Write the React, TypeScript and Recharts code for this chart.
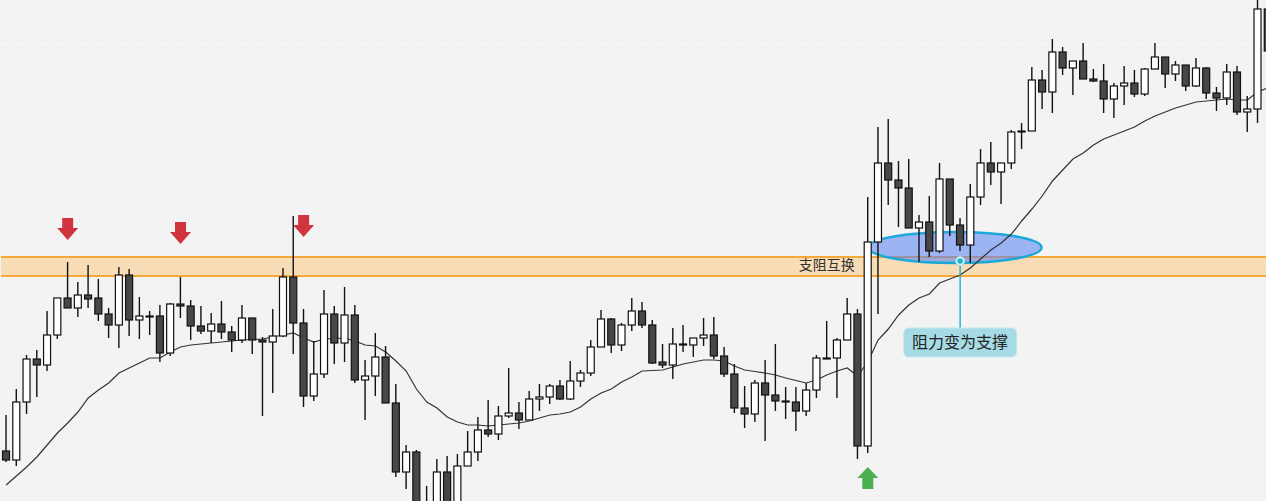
import React from 'react';
import {
  ComposedChart,
  Bar,
  Line,
  XAxis,
  YAxis,
  ReferenceArea,
  ReferenceLine,
  ReferenceDot,
} from 'recharts';

// price series (one value per candle)
const opens = [50,41,99,142,136,166,203,193,206,203,187,176,226,181,184.5,185,148,197,195,175,170,177,169,161,183,161,159,165,224,178,105,127,187,158,186,121,125,144,98,29,49,-14,-9,29,-4,35,49,71,67,85,88,81,102,104,115,102,120,128,154,182,156,176,190,176,139,136,156.5,156,163,166,145,127,93,87,118,106,100,99,90,111,142.5,143,161,187,55,259,338,321,313,273,279,250,322,276,256,304,338,329,338,369.5,370,421,409,449,433,440,422,420,402,415,418,407,432,444,427,436,415,433,408,403,429,389,392,492];
const highs = [86,112,146,151,190,203,239,219,236,222,193,234,232,204,190,196,198,224,201,195,188,200,175,196,183,164,192,233,285,192,160,211,195,214,196,141,168,155,117,56,51,15,42,45,47,70,84,101,95,133,99,110,117,117,121,140,131,161,191,183,178,203,199,181,157,173,176,163,183,184,154,137,115,121,141,157,114,114,118,146,180,163,203,192,304,374,382,340,342,286,305,338,322,283,317,352,359,338,371,378,434,431,462,454,440,458,432,437,418,435,431,433,458,444,440,436,443,434,414,437,435,405,511,506];
const lows = [39,35,87,104,130,162,193,184,193,180,163,153,165,162,166,139,145,183,161,167,158,162,149,158,147,85,108,164,147,94,100,123,137,139,118,81,105,98,24,12,-19,-21,-14,-13,-9,35,40,64,61,83,72,81,90,97,101,101,114,125,154,148,150,170,173,137,133,122,149,144,155,142,124,88,73,79,60,90,82,70,85,103,143,103,161,42,48,187,296,274,273,239,244,248,265,250,238,296,316,297,332,352,370,392,388,426,406,422,419,388,383,396,404,405,432,413,420,410,414,402,390,396,386,369,378,443];
const closes = [41,99,142,136,166,203,193,206,202,187,176,226,181,185,185,148,197,195,175,170,177,169,161,183,161,159,165,224,178,105,127,187,158,186,121,125,144,98,29,49,-11,-4,29,-7,35,49,71,67,85,88,81,102,104,115,102,120,128,154,182,156,176,190,176,138,136,157,157,163,166,145,127,93,87,118,106,100,99,90,111,143,143,161,187,55,259,338,321,313,273,279,250,322,276,256,304,338,329,338,369,370,421,409,449,433,440,422,420,402,415,418,407,432,444,427,436,415,433,408,403,429,389,392,492,450];
const movingAvg = [16,25,34,44,56,68,78,89,103,111,118,128,133,138,143,143,149,154,156,157,158,159,160,161,161.5,162,164,166,168,163,159,162,162.5,163,160,156,155,149,140,130,112,99,93,84,79,76,76,75,76,77,78,80,83,86,87,89,94,102,108,112,119,124,130,130.5,131,134,137,139,141,141,140,135,131,129.5,128,126,123,120.5,118,121,126,130,133,125,139,161,172,186,196,203,207,218,222,226,233,242,251,258,267,280,292,305,320,331,342,348,356,362,366,370,374,380,385,389,393,396,399,400,401,402,401,401,409,413];
const sessions = opens.map((_, i) => `K${i + 1}`);

// annotation values
const bandLow = 225;
const bandHigh = 244;
const bandLabel = '支阻互换';
const bandLabelAt = 'K81';
const calloutText = '阻力变为支撑';
const highLine = 457;
const sellSignals = [
  { x: 'K7', y: 272 },
  { x: 'K18', y: 268 },
  { x: 'K30', y: 275 },
];
const buySignal = { x: 'K85', y: 23 };
const zone = { from: 'K86', to: 'K101', low: 238, high: 269 };
const anchor = { x: 'K94', y: 240 };
const callout = { from: 'K89', to: 'K99', low: 144, high: 173 };

const data = sessions.map((s, i) => ({
  name: s,
  open: opens[i],
  high: highs[i],
  low: lows[i],
  close: closes[i],
  ma: movingAvg[i],
  range: [lows[i], highs[i]],
}));

const Candle = (props: any) => {
  const { x, y, width, height, payload } = props;
  if (!payload || x == null || y == null) return null;
  const { open, close, high, low } = payload;
  const cx = x + width / 2;
  const span = high - low;
  const k = span ? height / span : 0;
  const yO = y + (high - open) * k;
  const yC = y + (high - close) * k;
  const top = Math.min(yO, yC);
  const bh = Math.max(Math.abs(yO - yC), 1);
  const up = close >= open;
  return (
    <g>
      <line x1={cx} x2={cx} y1={y} y2={y + height} stroke="#111" strokeWidth={1.4} />
      <rect
        x={cx - 3.5}
        y={top}
        width={7}
        height={bh}
        fill={up ? '#ffffff' : '#474747'}
        stroke="#111"
        strokeWidth={1.2}
      />
    </g>
  );
};

const DownArrow = (props: any) => {
  const { cx, cy } = props;
  if (cx == null || cy == null) return null;
  const d = `M${cx - 5.5},${cy - 11} L${cx + 5.5},${cy - 11} L${cx + 5.5},${cy - 1} L${cx + 10.5},${cy - 1} L${cx},${cy + 11} L${cx - 10.5},${cy - 1} L${cx - 5.5},${cy - 1} Z`;
  return <path d={d} fill="#d0343f" />;
};

const UpArrow = (props: any) => {
  const { cx, cy } = props;
  if (cx == null || cy == null) return null;
  const d = `M${cx},${cy - 11} L${cx + 10.5},${cy} L${cx + 5.5},${cy} L${cx + 5.5},${cy + 11} L${cx - 5.5},${cy + 11} L${cx - 5.5},${cy} L${cx - 10.5},${cy} Z`;
  return <path d={d} fill="#4caf50" />;
};

const Ellipse = (props: any) => {
  const { x, y, width, height } = props;
  if (x == null) return null;
  return (
    <ellipse
      cx={x + width / 2}
      cy={y + height / 2}
      rx={(width + 9) / 2}
      ry={height / 2}
      fill="rgba(88,128,245,0.56)"
      stroke="#1aa9d9"
      strokeWidth={2.5}
    />
  );
};

const Callout = (props: any) => {
  const { x, y, width, height } = props;
  if (x == null) return null;
  return (
    <g>
      <rect x={x} y={y} width={width} height={height} rx={5} ry={5} fill="#a6dbe5" stroke="#c4e7ee" strokeWidth={1} />
      <text
        x={x + width / 2}
        y={y + height / 2 + 1}
        textAnchor="middle"
        dominantBaseline="middle"
        fontSize={16}
        fontFamily="'Noto Sans CJK SC', sans-serif"
        fill="#222"
      >
        {calloutText}
      </text>
    </g>
  );
};

const BandText = (props: any) => {
  const { cx, cy } = props;
  if (cx == null) return null;
  return (
    <text
      x={cx}
      y={cy}
      textAnchor="middle"
      dominantBaseline="middle"
      fontSize={14}
      fontFamily="'Noto Sans CJK SC', sans-serif"
      fill="#333"
    >
      {bandLabel}
    </text>
  );
};

const Anchor = (props: any) => {
  const { cx, cy } = props;
  if (cx == null) return null;
  return (
    <g>
      <circle cx={cx} cy={cy} r={4.5} fill="#e8f8fb" stroke="#9adbe8" strokeWidth={1} />
      <circle cx={cx} cy={cy} r={2.8} fill="#1fb3d6" />
    </g>
  );
};

export default function App() {
  return (
    <div
      style={{
        position: 'fixed',
        left: 0,
        top: 0,
        width: 1266,
        height: 501,
        overflow: 'hidden',
        background: '#f3f3f3',
      }}
    >
      <ComposedChart
        width={1273}
        height={501}
        data={data}
        margin={{ top: 0, right: 0, left: 1, bottom: 0 }}
      >
        <XAxis dataKey="name" hide />
        <YAxis type="number" domain={[0, 501]} allowDataOverflow hide />

        <ReferenceLine y={highLine} stroke="#ffffff" strokeDasharray="2 3" strokeWidth={1.2} zIndex={5} />
        <ReferenceArea y1={bandLow} y2={bandHigh} fill="#f8dcb6" fillOpacity={1} stroke="none" zIndex={10} />
        <ReferenceLine y={bandHigh} stroke="#f6a93b" strokeWidth={2} zIndex={11} />
        <ReferenceLine y={bandLow} stroke="#f6a93b" strokeWidth={2} zIndex={11} />
        <ReferenceDot x={bandLabelAt} y={(bandLow + bandHigh) / 2} r={1} shape={BandText} zIndex={12} />
        <ReferenceArea
          x1={zone.from}
          x2={zone.to}
          y1={zone.low}
          y2={zone.high}
          shape={Ellipse}
          zIndex={20}
        />

        <Line
          type="linear"
          dataKey="ma"
          stroke="#333"
          strokeWidth={1.2}
          dot={false}
          isAnimationActive={false}
          zIndex={30}
        />
        <Bar dataKey="range" shape={Candle} isAnimationActive={false} zIndex={40} />

        <ReferenceLine
          segment={[
            { x: anchor.x, y: anchor.y },
            { x: anchor.x, y: callout.high },
          ]}
          stroke="#2ab3d3"
          strokeWidth={1.5}
          zIndex={50}
        />
        <ReferenceDot x={anchor.x} y={anchor.y} r={4} shape={Anchor} zIndex={51} />
        <ReferenceArea
          x1={callout.from}
          x2={callout.to}
          y1={callout.low}
          y2={callout.high}
          shape={Callout}
          zIndex={52}
        />

        {sellSignals.map((s, i) => (
          <ReferenceDot key={i} x={s.x} y={s.y} r={10} shape={DownArrow} zIndex={60} />
        ))}
        <ReferenceDot x={buySignal.x} y={buySignal.y} r={10} shape={UpArrow} zIndex={60} />
      </ComposedChart>
    </div>
  );
}
